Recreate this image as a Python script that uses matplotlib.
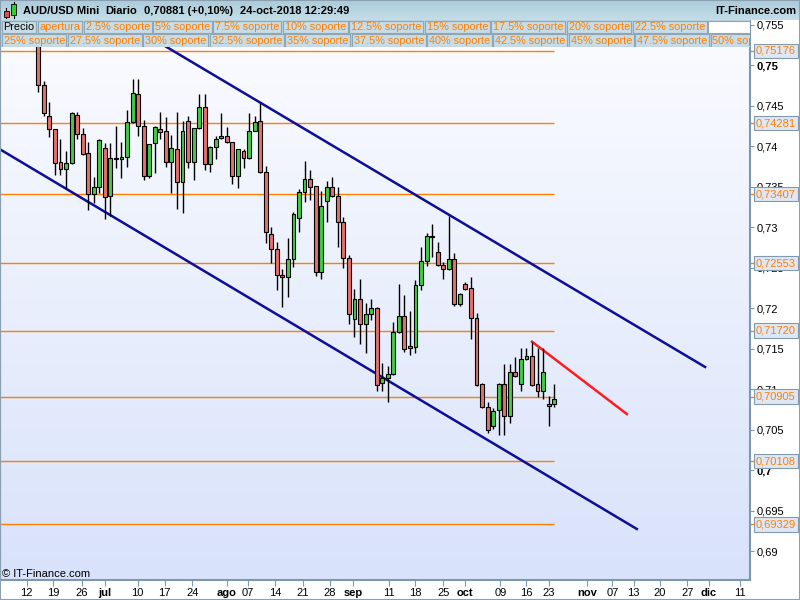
import numpy as np
import matplotlib
matplotlib.use("Agg")
import matplotlib.pyplot as plt
from matplotlib.patches import Rectangle
from matplotlib.colors import LinearSegmentedColormap

plt.rcParams['font.family'] = ['Liberation Sans', 'DejaVu Sans']

#------------------------------------------------------------
# daily candles AUD/USD (one per trading day, oldest first)
#------------------------------------------------------------
opens = [
    0.7566, 0.74753, 0.74370, 0.74206, 0.73798, 0.73712, 0.73786, 0.74379, 0.74144, 0.73910,
    0.73407, 0.73490, 0.73979, 0.73383, 0.73835, 0.73835, 0.73860, 0.74300, 0.74638, 0.74251,
    0.73634, 0.74033, 0.74206, 0.74185, 0.73807, 0.73963, 0.73551, 0.74309, 0.73807, 0.74218,
    0.74477, 0.73774, 0.73992, 0.74095, 0.74123, 0.74045, 0.73630, 0.73938, 0.73848, 0.74185,
    0.74309, 0.73675, 0.72914, 0.72724, 0.72403, 0.72379, 0.72601, 0.73107, 0.73436, 0.73588,
    0.73506, 0.72448, 0.73325, 0.73490, 0.73383, 0.73066, 0.72613, 0.71860, 0.72107, 0.71798,
    0.71922, 0.71996, 0.71078, 0.71132, 0.71185, 0.71708, 0.71901, 0.71502, 0.71523, 0.72284,
    0.72580, 0.72893, 0.72696, 0.72531, 0.72477, 0.72601, 0.72045, 0.72292, 0.72243, 0.71872,
    0.71058, 0.70782, 0.70543, 0.70741, 0.71058, 0.70667, 0.71214, 0.71062, 0.71366, 0.71407,
    0.71062, 0.70978, 0.70790, 0.70811]
highs = [
    0.7571, 0.74802, 0.74539, 0.74210, 0.74082, 0.73938, 0.74424, 0.74424, 0.74226, 0.74053,
    0.73613, 0.74082, 0.74041, 0.74041, 0.74247, 0.74053, 0.74444, 0.74827, 0.74827, 0.74321,
    0.74030, 0.74247, 0.74420, 0.74362, 0.74136, 0.74420, 0.74309, 0.74370, 0.74218, 0.74638,
    0.74638, 0.74000, 0.74123, 0.74411, 0.74230, 0.74050, 0.73965, 0.73963, 0.74403, 0.74370,
    0.74527, 0.73753, 0.73004, 0.72819, 0.72477, 0.72860, 0.73189, 0.73465, 0.73815, 0.73704,
    0.73510, 0.73444, 0.73572, 0.73621, 0.73498, 0.73127, 0.72654, 0.72230, 0.72354, 0.72058,
    0.72107, 0.72008, 0.71317, 0.71284, 0.71831, 0.72296, 0.72160, 0.71967, 0.72346, 0.72757,
    0.72922, 0.73037, 0.72811, 0.72572, 0.73140, 0.72683, 0.72180, 0.72317, 0.72379, 0.71934,
    0.71078, 0.70843, 0.70769, 0.71078, 0.71309, 0.71305, 0.71391, 0.71502, 0.71502, 0.71584,
    0.71502, 0.71502, 0.70914, 0.71062]
lows = [
    0.74671, 0.74375, 0.74115, 0.73642, 0.73642, 0.73477, 0.73780, 0.74082, 0.73890, 0.73210,
    0.73292, 0.73416, 0.73095, 0.73140, 0.73732, 0.73601, 0.73745, 0.74290, 0.74123, 0.73580,
    0.73600, 0.73671, 0.74082, 0.73745, 0.73424, 0.73222, 0.73169, 0.73724, 0.73580, 0.74210,
    0.73704, 0.73683, 0.73840, 0.74090, 0.74040, 0.73531, 0.73477, 0.73724, 0.73840, 0.74180,
    0.73670, 0.72798, 0.72551, 0.72222, 0.72016, 0.72140, 0.72510, 0.72942, 0.73313, 0.73333,
    0.72395, 0.72358, 0.73066, 0.73370, 0.72757, 0.72490, 0.71802, 0.71646, 0.71556, 0.71440,
    0.71850, 0.70978, 0.70978, 0.70843, 0.71170, 0.71690, 0.71460, 0.71420, 0.71440, 0.72222,
    0.72518, 0.72626, 0.72520, 0.72354, 0.72470, 0.72025, 0.72030, 0.72220, 0.71613, 0.71040,
    0.70770, 0.70453, 0.70502, 0.70432, 0.70432, 0.70584, 0.71150, 0.70978, 0.71360, 0.71040,
    0.70905, 0.70872, 0.70543, 0.70782]
closes = [
    0.74753, 0.74403, 0.74206, 0.73794, 0.73712, 0.73786, 0.74403, 0.74144, 0.73897, 0.73407,
    0.73490, 0.74074, 0.73366, 0.73848, 0.73848, 0.73860, 0.74292, 0.74650, 0.74251, 0.73634,
    0.74021, 0.74230, 0.74177, 0.73807, 0.73971, 0.73551, 0.74185, 0.73807, 0.74218, 0.74477,
    0.73774, 0.73992, 0.74082, 0.74123, 0.74045, 0.73630, 0.73963, 0.73848, 0.74185, 0.74296,
    0.73675, 0.72942, 0.72724, 0.72403, 0.72379, 0.72601, 0.73160, 0.73436, 0.73588, 0.73498,
    0.72448, 0.73259, 0.73490, 0.73383, 0.73066, 0.72613, 0.71922, 0.72107, 0.71798, 0.71922,
    0.71996, 0.71049, 0.71132, 0.71185, 0.71700, 0.71905, 0.71490, 0.71531, 0.72284, 0.72580,
    0.72889, 0.72881, 0.72531, 0.72477, 0.72601, 0.72045, 0.72169, 0.72230, 0.71872, 0.71049,
    0.70782, 0.70494, 0.70732, 0.71058, 0.70667, 0.71214, 0.71160, 0.71366, 0.71407, 0.71049,
    0.70978, 0.71206, 0.70811, 0.70872]

# x axis labels (position in candle index)
tick_pos = [-2.1, 2.7, 7.8, 12.0, 17.9, 22.8, 27.8, 34.0, 37.8, 42.7, 47.7, 52.5, 56.7,
            63.2, 68.0, 73.0, 76.9, 83.3, 87.9, 92.1, 98.9, 103.5, 107.3, 112.0, 117.0,
            120.9, 126.5]
tick_lab = ['12', '19', '26', 'jul', '10', '17', '24', 'ago', '07', '14', '21', '28', 'sep',
            '11', '18', '25', 'oct', '09', '16', '23', 'nov', '07', '13', '20', '27',
            'dic', '11']
months = ['jul', 'ago', 'sep', 'oct', 'nov', 'dic']

# support levels
levels = [0.75176, 0.74281, 0.73407, 0.72553, 0.71720, 0.70905, 0.70108, 0.69329]

# trend lines: (index, price) end points
chan_up_x, chan_up_y = [10, 120.2], [0.75757, 0.71272]
chan_lo_x, chan_lo_y = [-6.9, 107.9], [0.73959, 0.69272]
red_x, red_y = [89, 106.1], [0.71584, 0.70691]

row1 = ['Precio', 'apertura', '2.5% soporte', '5% soporte', '7.5% soporte', '10% soporte',
        '12.5% soporte', '15% soporte', '17.5% soporte', '20% soporte', '22.5% soporte']
row2 = ['25% soporte', '27.5% soporte', '30% soporte', '32.5% soporte', '35% soporte',
        '37.5% soporte', '40% soporte', '42.5% soporte', '45% soporte', '47.5% soporte',
        '50% soporte']

ORANGE = '#ff8000'
FRAME = '#7d97ab'
RED = '#e6706b'
GREEN = '#44cc44'

o = np.array(opens)
h = np.array(highs)
l = np.array(lows)
c = np.array(closes)
x = np.arange(len(o))

fig = plt.figure(figsize=(8, 6), dpi=100)
fig.patch.set_facecolor('white')

#--------------------------------------------------
# main price panel
#--------------------------------------------------
ax = fig.add_axes([0, 20 / 600, 750 / 800, 560 / 600])
bg = LinearSegmentedColormap.from_list('bg', ['#fbfcff', '#d8e2fa'])
ax.imshow(np.linspace(0, 1, 256).reshape(-1, 1), extent=[0, 1, 0, 1],
          transform=ax.transAxes, aspect='auto', cmap=bg, zorder=0)

ax.hlines(levels, -7, x[-1], color=ORANGE, lw=1, zorder=1)
ax.plot(chan_up_x, chan_up_y, color='#0d0d98', lw=1.8, zorder=2)
ax.plot(chan_lo_x, chan_lo_y, color='#0d0d98', lw=1.8, zorder=2)
ax.plot(red_x, red_y, color='#ff1c1c', lw=1.8, zorder=2)

up = c >= o
ax.vlines(x, l, h, color='black', lw=1, zorder=3)
ax.bar(x, np.maximum(np.abs(c - o), 0.00002), bottom=np.minimum(o, c), width=0.7,
       color=np.where(up, GREEN, RED), edgecolor='black', linewidth=0.8, zorder=4)

ax.set_xlim(-6.9, 128.3)
ax.set_ylim(0.68642, 0.755556)

# right price scale
ax.yaxis.tick_right()
yt = np.round(np.arange(0.69, 0.7551, 0.005), 3)
ax.set_yticks(yt)
ylabs = ax.set_yticklabels([f"{v:.3f}".rstrip('0').rstrip('.').replace('.', ',') for v in yt])
for v, t in zip(yt, ylabs):
    if v in (0.7, 0.75):
        t.set_fontweight('bold')
ax.tick_params(axis='y', direction='out', length=3, pad=2, labelsize=8,
               color=FRAME, labelcolor='black')

ax.set_xticks(tick_pos)
xlabs = ax.set_xticklabels(tick_lab)
for t in xlabs:
    if t.get_text() in months:
        t.set_fontweight('bold')
ax.tick_params(axis='x', direction='out', length=4, pad=2, labelsize=8,
               color=FRAME, labelcolor='black')

ax.spines['top'].set_visible(False)
ax.spines['left'].set_color(FRAME)
ax.spines['right'].set_color(FRAME)
ax.spines['bottom'].set_color(FRAME)
ax.spines['right'].set_linewidth(1.5)
ax.spines['bottom'].set_linewidth(1.5)

# level boxes on the price scale
ytr = ax.get_yaxis_transform()
for lv in levels:
    ax.plot([1, 1 + 5 / 750], [lv, lv], transform=ytr, color=ORANGE, lw=1, clip_on=False)
    ax.text(1 + 6 / 750, lv, f"{lv:.5f}".replace('.', ','), transform=ytr, ha='left',
            va='center', fontsize=8, color=ORANGE, zorder=6, clip_on=False,
            bbox=dict(boxstyle='square,pad=0.2', fc='#dfe7f4', ec='#8399ac', lw=0.8))

ax.text(2 / 750, 6 / 560, '\u00a9 IT-Finance.com', transform=ax.transAxes, ha='left',
        va='center', fontsize=8, color='black', zorder=6)

#--------------------------------------------------
# title bar
#--------------------------------------------------
ax_top = fig.add_axes([0, 580 / 600, 1, 20 / 600])
ax_top.set_xlim(0, 800)
ax_top.set_ylim(20, 0)
ax_top.axis('off')
tb = LinearSegmentedColormap.from_list('tb', ['#aacbd9', '#c4dde8'])
ax_top.imshow(np.linspace(0, 1, 64).reshape(-1, 1), extent=[0, 800, 20, 0],
              aspect='auto', cmap=tb, zorder=0)
# little candle icon
ax_top.plot([6, 6], [8, 18], color='black', lw=0.8, zorder=2)
ax_top.add_patch(Rectangle((3.5, 11), 5, 5.5, fc='#e05050', ec='black', lw=0.6, zorder=3))
ax_top.plot([13.5, 13.5], [1.5, 17.5], color='black', lw=0.8, zorder=2)
ax_top.add_patch(Rectangle((11, 4), 5, 11, fc='#30d030', ec='black', lw=0.6, zorder=3))
for xp, s in [(23, 'AUD/USD Mini'), (105, 'Diario'), (144, '0,70881 (+0,10%)'),
              (240, '24-oct-2018 12:29:49')]:
    ax_top.text(xp, 11, s, ha='left', va='center', fontsize=8, fontweight='bold', zorder=4)
ax_top.text(796, 11, 'IT-Finance.com', ha='right', va='center', fontsize=8,
            fontweight='bold', zorder=4)

#--------------------------------------------------
# level name rows
#--------------------------------------------------
ax_rows = fig.add_axes([0, 553 / 600, 750 / 800, 27 / 600])
ax_rows.set_xlim(0, 750)
ax_rows.set_ylim(47, 20)
ax_rows.axis('off')
ax_rows.add_patch(Rectangle((0, 20), 750, 27, fc='#b9d3de', ec='none', zorder=0))
renderer = fig.canvas.get_renderer()


def draw_row(labels, y0, hgt, fill_rest):
    xc = 1.5
    for i, lab in enumerate(labels):
        col = 'black' if lab == 'Precio' else ORANGE
        t = ax_rows.text(xc + 2, y0 + hgt / 2, lab, ha='left', va='center', fontsize=7.8,
                         color=col, zorder=3, clip_on=True)
        w = t.get_window_extent(renderer).width
        ax_rows.add_patch(Rectangle((xc, y0), w + 3.5, hgt, fc='#c8dce6', ec='#8ea6b5',
                                    lw=0.8, zorder=2, clip_on=True))
        xc += w + 5
    if fill_rest:
        ax_rows.add_patch(Rectangle((xc, y0), 750 - xc, hgt, fc='white', ec='#8ea6b5',
                                    lw=0.8, zorder=2))


draw_row(row1, 20.5, 12.5, True)
draw_row(row2, 34, 13, False)

fig.add_artist(Rectangle((0, 0), 1, 1, transform=fig.transFigure, fill=False,
                         ec='#8a9fb0', lw=1.5))

fig.savefig('out.png', dpi=100)
